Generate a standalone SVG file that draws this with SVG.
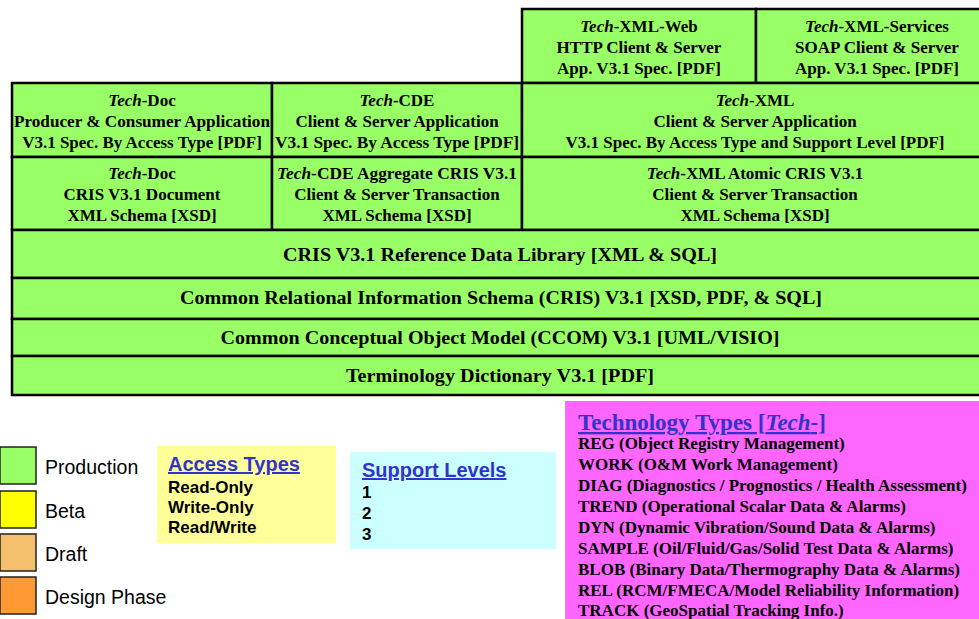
<svg xmlns="http://www.w3.org/2000/svg" width="979" height="619" viewBox="0 0 979 619">
<style>
.box{fill:#99FF66;stroke:#000;stroke-width:2.5}
.t{font-family:"Liberation Serif","Times New Roman",serif;font-weight:bold;font-size:17px;fill:#000;text-anchor:middle}
.b{font-family:"Liberation Serif","Times New Roman",serif;font-weight:bold;font-size:18px;fill:#000;text-anchor:middle}
.i{font-style:italic}
.sq{stroke:#222;stroke-width:1.5}
.lg{font-family:"Liberation Sans",Arial,sans-serif;font-size:19.5px;fill:#000}
.hd{font-family:"Liberation Sans",Arial,sans-serif;font-size:20px;font-weight:bold;fill:#3333CC;text-decoration:underline}
.it{font-family:"Liberation Sans",Arial,sans-serif;font-size:17px;font-weight:bold;fill:#000}
.th{font-family:"Liberation Serif","Times New Roman",serif;font-size:23px;font-weight:bold;fill:#3333CC;text-decoration:underline}
.tt{font-family:"Liberation Serif","Times New Roman",serif;font-size:17px;font-weight:bold;fill:#000}
</style>
<rect width="979" height="619" fill="#fff"/>
<g id="tech-xml-web"><rect class="box" x="522" y="9" width="234" height="74"/>
<text class="t" x="639" y="32"><tspan class="i">Tech</tspan>-XML-Web</text>
<text class="t" x="639" y="53">HTTP Client &amp; Server</text>
<text class="t" x="639" y="74">App. V3.1 Spec. [PDF]</text></g>
<g id="tech-xml-services"><rect class="box" x="756" y="9" width="240" height="74"/>
<text class="t" x="877" y="32"><tspan class="i">Tech</tspan>-XML-Services</text>
<text class="t" x="877" y="53">SOAP Client &amp; Server</text>
<text class="t" x="877" y="74">App. V3.1 Spec. [PDF]</text></g>
<g id="tech-doc-app"><rect class="box" x="12" y="83" width="260" height="74"/>
<text class="t" x="142" y="106"><tspan class="i">Tech</tspan>-Doc</text>
<text class="t" x="142" y="127" textLength="256" lengthAdjust="spacingAndGlyphs">Producer &amp; Consumer Application</text>
<text class="t" x="142" y="148">V3.1 Spec. By Access Type [PDF]</text></g>
<g id="tech-cde-app"><rect class="box" x="272" y="83" width="250" height="74"/>
<text class="t" x="397" y="106"><tspan class="i">Tech</tspan>-CDE</text>
<text class="t" x="397" y="127">Client &amp; Server Application</text>
<text class="t" x="397" y="148" textLength="244" lengthAdjust="spacingAndGlyphs">V3.1 Spec. By Access Type [PDF]</text></g>
<g id="tech-xml-app"><rect class="box" x="522" y="83" width="467" height="74"/>
<text class="t" x="755" y="106"><tspan class="i">Tech</tspan>-XML</text>
<text class="t" x="755" y="127">Client &amp; Server Application</text>
<text class="t" x="755" y="148">V3.1 Spec. By Access Type and Support Level [PDF]</text></g>
<g id="tech-doc-xsd"><rect class="box" x="12" y="157" width="260" height="73"/>
<text class="t" x="142" y="179"><tspan class="i">Tech</tspan>-Doc</text>
<text class="t" x="142" y="200">CRIS V3.1 Document</text>
<text class="t" x="142" y="221">XML Schema [XSD]</text></g>
<g id="tech-cde-xsd"><rect class="box" x="272" y="157" width="250" height="73"/>
<text class="t" x="397" y="179" textLength="240" lengthAdjust="spacingAndGlyphs"><tspan class="i">Tech</tspan>-CDE Aggregate CRIS V3.1</text>
<text class="t" x="397" y="200">Client &amp; Server Transaction</text>
<text class="t" x="397" y="221">XML Schema [XSD]</text></g>
<g id="tech-xml-xsd"><rect class="box" x="522" y="157" width="467" height="73"/>
<text class="t" x="755" y="179"><tspan class="i">Tech</tspan>-XML Atomic CRIS V3.1</text>
<text class="t" x="755" y="200">Client &amp; Server Transaction</text>
<text class="t" x="755" y="221">XML Schema [XSD]</text></g>
<g id="rdl"><rect class="box" x="12" y="230" width="977" height="48"/>
<text class="b" x="500" y="261" textLength="434" lengthAdjust="spacingAndGlyphs">CRIS V3.1 Reference Data Library [XML &amp; SQL]</text></g>
<g id="cris"><rect class="box" x="12" y="278" width="977" height="41"/>
<text class="b" x="501" y="304" textLength="642" lengthAdjust="spacingAndGlyphs">Common Relational Information Schema (CRIS) V3.1 [XSD, PDF, &amp; SQL]</text></g>
<g id="ccom"><rect class="box" x="12" y="319" width="977" height="37"/>
<text class="b" x="500" y="344" textLength="559" lengthAdjust="spacingAndGlyphs">Common Conceptual Object Model (CCOM) V3.1 [UML/VISIO]</text></g>
<g id="terminology"><rect class="box" x="12" y="356" width="977" height="39"/>
<text class="b" x="500" y="382" textLength="308" lengthAdjust="spacingAndGlyphs">Terminology Dictionary V3.1 [PDF]</text></g>
<g id="connectors"></g>
<g id="legend-status">
<rect class="sq" x="0" y="447" width="36" height="37" fill="#99FF66"/>
<text class="lg" x="45" y="474">Production</text>
<rect class="sq" x="0" y="491" width="36" height="37" fill="#FFFF00"/>
<text class="lg" x="45" y="518">Beta</text>
<rect class="sq" x="0" y="534" width="36" height="37" fill="#F5C06E"/>
<text class="lg" x="45" y="561">Draft</text>
<rect class="sq" x="0" y="577" width="36" height="37" fill="#FF9933"/>
<text class="lg" x="45" y="604">Design Phase</text>
</g>
<g id="access-types">
<rect x="157" y="446" width="179" height="97" fill="#FFFF99"/>
<text class="hd" x="168" y="471">Access Types</text>
<text class="it" x="168" y="493">Read-Only</text>
<text class="it" x="168" y="513">Write-Only</text>
<text class="it" x="168" y="533">Read/Write</text>
</g>
<g id="support-levels">
<rect x="350" y="452" width="206" height="97" fill="#CCFFFF"/>
<text class="hd" x="362" y="477">Support Levels</text>
<text class="it" x="362" y="498">1</text>
<text class="it" x="362" y="519">2</text>
<text class="it" x="362" y="540">3</text>
</g>
<g id="technology-types">
<rect x="565" y="401" width="414" height="218" fill="#FF66FF"/>
<text class="th" x="578" y="430">Technology Types [<tspan font-style="italic">Tech</tspan>-]</text>
<text class="tt" x="578" y="449">REG (Object Registry Management)</text>
<text class="tt" x="578" y="470">WORK (O&amp;M Work Management)</text>
<text class="tt" x="578" y="491">DIAG (Diagnostics / Prognostics / Health Assessment)</text>
<text class="tt" x="578" y="512">TREND (Operational Scalar Data &amp; Alarms)</text>
<text class="tt" x="578" y="533">DYN (Dynamic Vibration/Sound Data &amp; Alarms)</text>
<text class="tt" x="578" y="554">SAMPLE (Oil/Fluid/Gas/Solid Test Data &amp; Alarms)</text>
<text class="tt" x="578" y="575">BLOB (Binary Data/Thermography Data &amp; Alarms)</text>
<text class="tt" x="578" y="596">REL (RCM/FMECA/Model Reliability Information)</text>
<text class="tt" x="578" y="616">TRACK (GeoSpatial Tracking Info.)</text>
</g>
</svg>
